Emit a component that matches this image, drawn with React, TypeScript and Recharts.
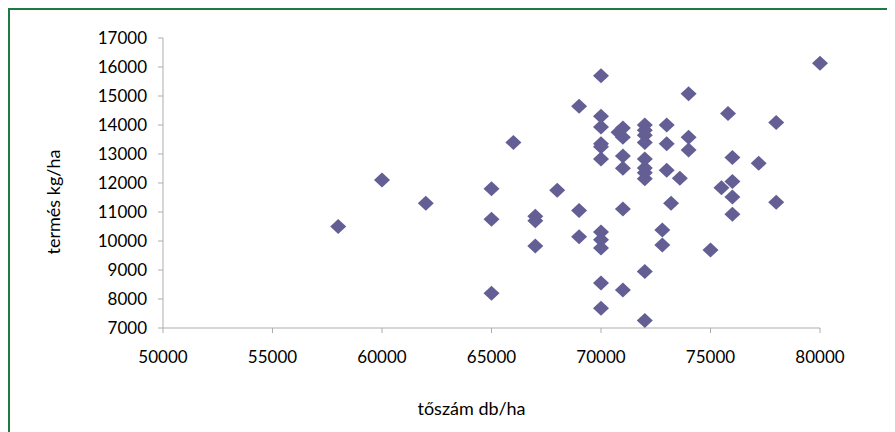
import { ScatterChart, Scatter, XAxis, YAxis, Label } from 'recharts';

// tőszám (plants/ha) and termés (yield kg/ha)
const plantCounts = [
  58000, 60000, 62000, 65000, 65000, 65000, 66000, 67000, 67000, 67000,
  68000, 69000, 69000, 69000, 70000, 70000, 70000, 70000, 70000, 70000,
  70000, 70000, 70000, 70000, 70000, 70800, 71000, 71000, 71000, 71000,
  71000, 71000, 72000, 72000, 72000, 72000, 72000, 72000, 72000, 72000,
  72000, 72000, 73000, 73000, 73000, 73200, 72800, 72800, 73600, 74000,
  74000, 74000, 75000, 75500, 75800, 76000, 76000, 76000, 76000, 77200,
  78000, 78000, 80000,
];
const yields = [
  10500, 12100, 11300, 11800, 10750, 8200, 13400, 10850, 10700, 9830,
  11750, 14650, 11050, 10150, 15700, 14300, 13930, 13350, 13250, 12830,
  10310, 10040, 9760, 8550, 7680, 13750, 13900, 13580, 12930, 12510,
  11100, 8310, 14000, 13820, 13650, 13400, 12830, 12520, 12350, 12150,
  8950, 7260, 14000, 13350, 12440, 11300, 10380, 9860, 12160, 15080,
  13580, 13140, 9690, 11840, 14400, 12880, 12050, 11520, 10920, 12680,
  14090, 11340, 16130,
];

const xTicks = [50000, 55000, 60000, 65000, 70000, 75000, 80000];
const yTicks = [7000, 8000, 9000, 10000, 11000, 12000, 13000, 14000, 15000, 16000, 17000];

const data = plantCounts.map((x, i) => ({ x, y: yields[i] }));

const FONT = 'Lato, "Open Sans", sans-serif';
const AXIS = '#ADADAD';
const MARK = '#635F94';

function Diamond(props: any) {
  const { cx, cy } = props;
  const w = 8;
  const h = 7.5;
  return (
    <polygon
      points={`${cx},${cy - h} ${cx + w},${cy} ${cx},${cy + h} ${cx - w},${cy}`}
      fill={MARK}
    />
  );
}

export default function App() {
  return (
    <div
      style={{
        width: 887,
        height: 424,
        boxSizing: 'border-box',
        borderLeft: '2px solid #1E7A45',
        borderTop: '2px solid #1E7A45',
        background: '#fff',
      }}
    >
      <ScatterChart width={885} height={422} margin={{ top: 28, right: 75, left: 63, bottom: 44 }}>
        <XAxis
          type="number"
          dataKey="x"
          domain={[50000, 80000]}
          ticks={xTicks}
          height={60}
          tickSize={5}
          tickMargin={18}
          stroke={AXIS}
          tick={{ fill: '#000', fontSize: 17, fontFamily: FONT }}
        >
          <Label
            content={({ viewBox }: any) => {
              const { x, y, width, height } = viewBox;
              return (
                <text
                  x={x + width / 2 - 20}
                  y={y + height + 27}
                  textAnchor="middle"
                  fontSize={18}
                  fontFamily={FONT}
                  fill="#000"
                >
                  tőszám db/ha
                </text>
              );
            }}
          />
        </XAxis>
        <YAxis
          type="number"
          dataKey="y"
          domain={[7000, 17000]}
          ticks={yTicks}
          width={90}
          tickSize={5}
          tickMargin={11}
          stroke={AXIS}
          tick={{ fill: '#000', fontSize: 17, fontFamily: FONT }}
        >
          <Label
            content={({ viewBox }: any) => {
              const { x, y, width, height } = viewBox;
              const cx = x + width / 2 - 65;
              const cy = y + height / 2 + 19;
              return (
                <text
                  x={cx}
                  y={cy}
                  transform={`rotate(-90 ${cx} ${cy})`}
                  textAnchor="middle"
                  dominantBaseline="central"
                  fontSize={18}
                  fontFamily={FONT}
                  fill="#000"
                >
                  termés kg/ha
                </text>
              );
            }}
          />
        </YAxis>
        <Scatter data={data} shape={Diamond} isAnimationActive={false} />
      </ScatterChart>
    </div>
  );
}
